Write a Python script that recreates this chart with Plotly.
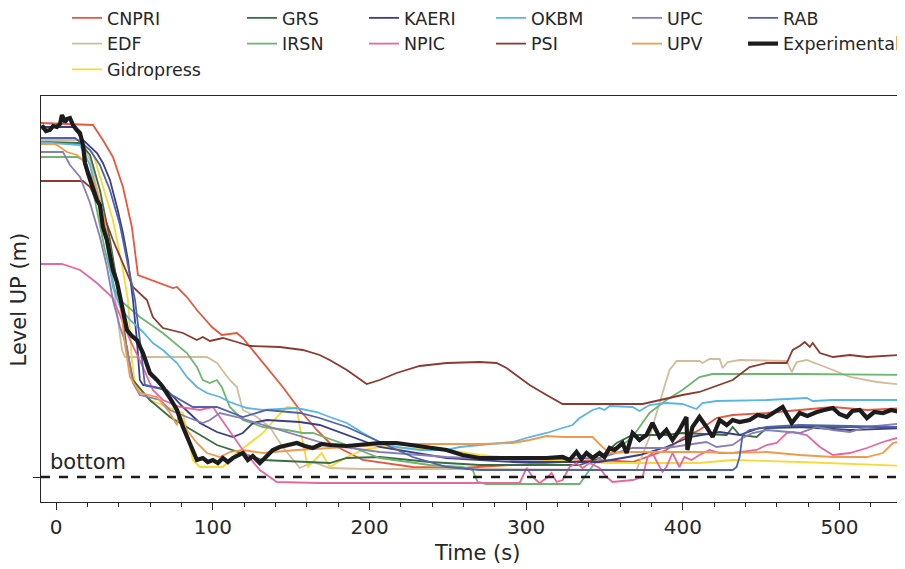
import plotly.graph_objects as go

# level in the upper plenum: (time [s], level [m] above the bottom)
CNPRI = [(-10, 7.08), (23.5, 7.04), (29.8, 6.74), (36.2, 6.40), (42.6, 5.80), (48.3, 5.00), (52.2, 4.04),
         (66.2, 3.88), (74.5, 3.78), (77.1, 3.80), (83.4, 3.60), (89.8, 3.34), (99.4, 3.00), (105.7, 2.84),
         (115.3, 2.88), (119.1, 2.78), (131.9, 2.28), (144.6, 1.80), (155.5, 1.34), (166.3, 0.94),
         (174.6, 0.68), (195.7, 0.34), (227.6, 0.20), (259.4, 0.18), (278.5, 0.22), (346.8, 0.34),
         (367.9, 0.30), (389.5, 0.54), (399.7, 0.78), (410.6, 0.94), (421.5, 1.18), (431.8, 1.24),
         (453.5, 1.28), (474.6, 1.34), (495.8, 1.40), (517.5, 1.34), (541.8, 1.38)]

EDF = [(-10, 6.74), (15.2, 6.74), (21.6, 6.34), (27.9, 5.54), (32.4, 4.74), (36.2, 3.94), (39.4, 3.14),
       (42.0, 2.54), (43.9, 2.40), (96.2, 2.40), (102.6, 2.28), (110.8, 1.94), (115.3, 1.80), (119.1, 1.34),
       (128.1, 1.20), (136.4, 1.00), (144.6, 0.60), (153.6, 0.24), (155.5, 0.18), (163.8, 0.30),
       (174.6, 0.18), (195.7, 0.16), (270.3, 0.16), (370.4, 0.14), (378.7, 0.80), (385.1, 1.48),
       (391.5, 2.14), (396.0, 2.32), (410.6, 2.32), (412.5, 2.28), (417.0, 2.36), (423.5, 2.36),
       (425.4, 2.18), (428.6, 2.30), (436.2, 2.34), (466.3, 2.32), (469.5, 2.10), (472.7, 2.30),
       (479.1, 2.34), (495.8, 2.14), (506.6, 2.00), (523.8, 1.90), (541.8, 1.84)]

GIDROPRESS = [(-10, 6.70), (18.4, 6.64), (23.5, 6.48), (29.8, 5.80), (36.2, 5.14), (42.6, 4.14),
              (45.8, 3.54), (48.3, 2.34), (50.3, 1.84), (53.4, 1.74), (59.8, 1.54), (72.6, 1.38),
              (80.9, 1.28), (87.2, 0.34), (91.7, 0.20), (102.6, 0.20), (106.4, 0.20), (115.3, 0.48),
              (131.9, 0.88), (140.8, 1.20), (147.2, 1.40), (153.6, 1.38), (155.5, 1.00), (160.6, 0.20),
              (169.5, 0.48), (174.6, 0.20), (185.5, 0.40), (195.7, 0.54), (206.5, 0.60), (249.2, 0.54),
              (270.3, 0.44), (291.4, 0.38), (334.1, 0.30), (353.2, 0.28), (410.6, 0.28), (431.8, 0.34),
              (474.6, 0.30), (541.8, 0.22)]

GRS = [(-10, 6.70), (15.2, 6.68), (21.6, 6.44), (27.9, 5.74), (34.3, 4.74), (40.7, 3.54), (45.2, 2.54),
       (49.0, 1.94), (59.8, 1.54), (72.6, 1.20), (102.6, 0.64), (131.9, 0.34), (174.6, 0.28), (185.5, 0.38),
       (206.5, 0.40), (238.4, 0.30), (270.3, 0.24), (334.1, 0.24), (346.8, 0.38), (357.7, 0.68),
       (367.9, 0.84), (389.5, 0.84), (399.7, 0.88), (428.0, 0.84), (431.8, 1.00), (436.2, 0.84),
       (447.1, 0.80), (453.5, 0.98), (474.6, 1.00), (506.6, 1.00), (541.8, 1.00)]

IRSN = [(-10, 6.40), (13.3, 6.40), (17.1, 6.34), (24.7, 5.54), (31.1, 4.54), (37.5, 3.74), (40.7, 3.54),
        (53.4, 3.20), (68.1, 2.88), (83.4, 2.48), (89.8, 2.20), (93.6, 1.94), (98.1, 1.88), (102.6, 1.94),
        (105.7, 1.80), (110.8, 1.40), (119.1, 1.14), (131.9, 1.00), (147.2, 0.94), (157.4, 0.88),
        (163.8, 0.88), (185.5, 0.64), (206.5, 0.38), (238.4, 0.24), (259.4, 0.20), (265.8, 0.14),
        (269.0, -0.10), (274.6, -0.14), (334.1, -0.14), (340.4, 0.14), (346.8, 0.38), (357.7, 0.54),
        (367.9, 0.80), (378.7, 1.28), (389.5, 1.54), (399.7, 1.74), (410.6, 2.00), (419.0, 2.06),
        (474.6, 2.06), (541.8, 2.04)]

KAERI = [(-10, 7.00), (10.7, 7.00), (17.1, 6.74), (26.0, 6.48), (29.8, 6.28), (34.3, 5.94), (38.8, 5.40),
         (42.6, 4.88), (45.8, 4.34), (49.0, 3.54), (51.5, 2.74), (53.4, 1.94), (55.4, 1.84), (70.7, 1.74),
         (80.9, 1.40), (91.7, 1.08), (102.6, 0.90), (112.8, 0.80), (119.1, 0.88), (125.5, 1.08),
         (134.4, 1.14), (155.5, 1.10), (168.2, 1.04), (206.5, 0.60), (249.2, 0.38), (291.4, 0.30),
         (346.8, 0.30), (372.3, 0.44), (389.5, 0.60), (404.2, 0.80), (423.5, 0.90), (436.2, 0.84),
         (449.0, 0.98), (474.6, 1.00), (506.6, 0.94), (541.8, 0.98)]

NPIC = [(-10, 4.26), (3.7, 4.26), (15.2, 4.14), (26.0, 3.88), (36.2, 3.58), (47.1, 2.74), (55.4, 2.20),
        (61.7, 1.74), (68.1, 1.54), (78.9, 1.40), (91.7, 1.34), (100.0, 1.40), (108.9, 1.00), (119.1, 0.54),
        (130.0, 0.14), (140.8, -0.10), (168.2, -0.12), (265.8, -0.12), (295.8, -0.12), (300.3, 0.18),
        (304.1, 0.00), (308.5, -0.12), (313.0, -0.02), (316.2, 0.08), (319.4, -0.10), (323.2, -0.06),
        (327.7, 0.20), (332.1, 0.28), (336.0, 0.18), (340.4, 0.28), (346.8, 0.18), (351.3, 0.00),
        (355.2, -0.10), (367.9, -0.06), (374.3, 0.00), (377.5, 0.40), (380.6, 0.48), (383.8, 0.28),
        (387.0, 0.10), (389.5, 0.20), (393.4, 0.48), (397.8, 0.20), (401.0, 0.40), (405.5, 0.34),
        (410.6, 0.44), (417.0, 0.54), (423.5, 0.48), (431.8, 0.48), (447.1, 0.54), (453.5, 0.64),
        (459.9, 0.68), (466.3, 0.88), (470.1, 0.90), (479.1, 0.84), (487.5, 0.60), (495.8, 0.44),
        (506.6, 0.48), (517.5, 0.58), (527.7, 0.70), (536.6, 0.78), (541.8, 0.78)]

OKBM = [(-10, 6.70), (15.2, 6.64), (21.6, 6.24), (29.8, 5.14), (36.2, 3.80), (40.7, 3.40), (47.1, 3.14),
        (55.4, 2.90), (61.7, 2.68), (68.1, 2.54), (77.1, 2.28), (83.4, 2.00), (89.8, 1.80), (96.2, 1.68),
        (104.5, 1.60), (110.8, 1.50), (121.7, 1.38), (131.9, 1.34), (153.6, 1.38), (166.3, 1.30),
        (174.6, 1.20), (185.5, 1.08), (195.7, 0.88), (206.5, 0.70), (217.3, 0.60), (232.0, 0.54),
        (249.2, 0.54), (257.5, 0.60), (270.3, 0.64), (291.4, 0.70), (302.2, 0.80), (313.0, 0.88),
        (323.2, 0.98), (329.6, 1.04), (334.1, 1.18), (342.4, 1.34), (346.8, 1.38), (350.0, 1.34),
        (353.2, 1.42), (367.9, 1.40), (372.3, 1.32), (378.7, 1.44), (389.5, 1.48), (399.7, 1.46),
        (408.7, 1.36), (412.5, 1.48), (421.5, 1.52), (453.5, 1.54), (479.1, 1.58), (482.9, 1.52),
        (495.8, 1.54), (541.8, 1.54)]

PSI = [(-10, 5.92), (17.1, 5.92), (21.6, 5.80), (29.8, 5.28), (36.2, 4.74), (42.6, 4.28), (49.0, 3.80),
       (57.9, 3.54), (61.7, 3.20), (68.1, 2.98), (80.9, 2.88), (89.8, 2.74), (93.6, 2.80), (98.1, 2.72),
       (106.4, 2.78), (115.3, 2.70), (123.6, 2.62), (142.7, 2.60), (157.4, 2.54), (168.2, 2.44),
       (174.6, 2.34), (185.5, 2.14), (198.2, 1.86), (206.5, 1.94), (217.3, 2.08), (232.0, 2.22),
       (249.2, 2.28), (270.3, 2.30), (281.1, 2.28), (287.5, 2.18), (302.2, 1.84), (313.0, 1.64),
       (323.2, 1.46), (374.3, 1.46), (385.1, 1.54), (399.7, 1.64), (410.6, 1.70), (419.0, 1.80),
       (431.8, 1.94), (442.6, 2.20), (453.5, 2.28), (466.3, 2.28), (470.1, 2.54), (474.6, 2.62),
       (477.8, 2.70), (481.0, 2.60), (482.9, 2.68), (487.5, 2.48), (495.8, 2.40), (506.6, 2.44),
       (517.5, 2.40), (538.6, 2.44), (541.8, 2.40)]

UPC = [(-10, 6.50), (4.3, 6.50), (8.8, 6.24), (15.2, 6.00), (21.6, 5.48), (27.9, 4.80), (32.4, 4.20),
       (36.2, 3.54), (40.7, 3.00), (45.2, 2.60), (49.0, 1.88), (53.4, 1.64), (66.2, 1.54), (72.6, 1.34),
       (83.4, 1.20), (93.6, 1.08), (98.1, 1.14), (104.5, 1.28), (115.3, 1.20), (131.9, 1.04), (153.6, 0.84),
       (174.6, 0.64), (206.5, 0.50), (249.2, 0.40), (291.4, 0.34), (346.8, 0.38), (367.9, 0.58),
       (389.5, 0.58), (410.6, 0.68), (415.1, 0.70), (421.5, 0.60), (431.8, 0.64), (438.1, 0.78),
       (444.5, 0.88), (453.5, 0.94), (474.6, 0.88), (485.5, 1.00), (495.8, 0.94), (506.6, 0.90),
       (517.5, 1.00), (541.8, 1.08)]

UPV = [(-10, 6.66), (-0.8, 6.66), (2.4, 6.60), (6.9, 6.50), (13.3, 6.44), (17.1, 6.34), (23.5, 5.94),
       (29.8, 5.28), (36.2, 4.28), (40.7, 3.54), (43.9, 2.64), (47.1, 2.00), (53.4, 1.68), (64.3, 1.60),
       (72.6, 1.28), (77.1, 1.04), (78.4, 1.28), (83.4, 0.94), (89.8, 0.68), (96.2, 0.48), (104.5, 0.40),
       (110.8, 0.50), (119.1, 0.54), (131.9, 0.48), (153.6, 0.54), (174.6, 0.58), (185.5, 0.60),
       (206.5, 0.64), (227.6, 0.66), (270.3, 0.66), (291.4, 0.68), (302.2, 0.74), (313.0, 0.82),
       (323.2, 0.80), (334.1, 0.80), (342.4, 0.80), (348.7, 0.60), (353.2, 0.48), (367.9, 0.50),
       (410.6, 0.50), (431.8, 0.48), (453.5, 0.50), (474.6, 0.44), (495.8, 0.40), (517.5, 0.40),
       (527.7, 0.48), (534.1, 0.68), (537.3, 0.70), (541.8, 0.60)]

RAB = [(-10, 6.78), (12.0, 6.78), (21.6, 6.54), (27.9, 6.24), (34.3, 5.74), (40.7, 5.04), (45.8, 4.24),
       (50.3, 3.54), (53.4, 2.74), (56.6, 1.84), (66.2, 1.78), (87.2, 1.40), (102.6, 1.40), (112.8, 1.28),
       (119.1, 1.20), (134.4, 1.34), (155.5, 1.28), (168.2, 1.18), (185.5, 1.00), (227.6, 0.40),
       (249.2, 0.20), (270.3, 0.14), (431.8, 0.14), (434.3, 0.20), (436.2, 0.40), (438.1, 0.84),
       (442.6, 0.94), (453.5, 1.00), (474.6, 1.04), (506.6, 1.02), (541.8, 1.00)]

EXPERIMENTAL = [(-9.7, 6.98), (-8.4, 7.00), (-6.5, 6.92), (-4.0, 6.94), (-2.0, 7.02), (0.5, 7.00),
                (2.4, 7.06), (3.7, 7.24), (5.6, 7.10), (6.9, 7.16), (8.8, 7.18), (10.1, 7.06), (10.7, 7.04),
                (13.3, 6.94), (15.2, 6.88), (17.1, 6.64), (18.4, 6.28), (20.3, 6.08), (23.5, 5.80),
                (26.0, 5.54), (27.9, 5.44), (29.8, 5.00), (32.4, 4.74), (34.3, 4.48), (36.2, 4.14),
                (38.8, 3.90), (40.7, 3.60), (43.9, 3.08), (45.2, 2.94), (48.3, 2.82), (51.5, 2.74),
                (55.4, 2.48), (59.8, 2.08), (64.3, 1.94), (68.1, 1.80), (72.6, 1.58), (77.1, 1.34),
                (80.9, 1.00), (85.3, 0.68), (89.8, 0.34), (93.6, 0.38), (96.8, 0.30), (100.0, 0.34),
                (103.2, 0.28), (106.4, 0.38), (109.6, 0.30), (112.8, 0.38), (116.0, 0.44), (119.1, 0.48),
                (122.3, 0.34), (125.5, 0.42), (130.0, 0.28), (131.9, 0.34), (134.4, 0.40), (138.3, 0.54),
                (142.7, 0.60), (147.2, 0.64), (153.6, 0.68), (158.7, 0.62), (163.8, 0.58), (169.5, 0.66),
                (174.6, 0.64), (185.5, 0.62), (195.7, 0.64), (206.5, 0.68), (217.3, 0.68), (227.6, 0.64),
                (238.4, 0.58), (249.2, 0.54), (259.4, 0.44), (270.3, 0.38), (281.1, 0.38), (291.4, 0.38),
                (302.2, 0.36), (313.0, 0.38), (323.2, 0.40), (327.7, 0.34), (332.1, 0.50), (335.3, 0.36),
                (338.5, 0.48), (342.4, 0.38), (346.8, 0.48), (350.0, 0.40), (353.2, 0.58), (356.4, 0.54),
                (361.5, 0.68), (364.1, 0.48), (367.9, 0.88), (372.3, 0.74), (376.8, 0.84), (380.6, 1.08),
                (385.1, 0.80), (389.5, 0.94), (393.4, 0.74), (397.8, 0.94), (402.3, 1.20), (402.9, 0.54),
                (406.1, 1.00), (410.6, 1.20), (415.1, 1.00), (419.0, 0.80), (423.5, 1.14), (428.0, 1.04),
                (431.8, 1.14), (436.2, 1.10), (442.6, 1.14), (447.7, 1.24), (453.5, 1.20), (458.4, 1.30),
                (463.7, 1.40), (469.5, 1.08), (474.6, 1.28), (479.5, 1.22), (485.5, 1.30), (490.3, 1.34),
                (495.8, 1.38), (499.9, 1.26), (504.7, 1.20), (508.2, 1.32), (513.0, 1.34), (517.5, 1.18),
                (522.2, 1.30), (527.7, 1.28), (533.0, 1.34), (538.6, 1.30), (541.8, 1.28)]

BOTTOM_LEVEL = 0.0
X_TICKS = [0, 100, 200, 300, 400, 500]

FONT = "DejaVu Sans"
INK = "#262626"

# name, data, colour, legend column
models = [
    ("CNPRI", CNPRI, "#e8573f", "legend"),
    ("EDF", EDF, "#d3bc9a", "legend"),
    ("Gidropress", GIDROPRESS, "#f6da3a", "legend"),
    ("GRS", GRS, "#3b6d45", "legend2"),
    ("IRSN", IRSN, "#6db66f", "legend2"),
    ("KAERI", KAERI, "#3b3e87", "legend3"),
    ("NPIC", NPIC, "#e9679f", "legend3"),
    ("OKBM", OKBM, "#58b6e4", "legend4"),
    ("PSI", PSI, "#8b3a2f", "legend4"),
    ("UPC", UPC, "#8a7eb7", "legend5"),
    ("UPV", UPV, "#f29a4b", "legend5"),
    ("RAB", RAB, "#4f62ab", "legend6"),
]

fig = go.Figure()

for name, data, color, leg in models:
    fig.add_trace(go.Scatter(
        x=[p[0] for p in data], y=[p[1] for p in data],
        mode="lines", name=name, legend=leg,
        line=dict(color=color, width=1.8),
    ))

fig.add_trace(go.Scatter(
    x=[p[0] for p in EXPERIMENTAL], y=[p[1] for p in EXPERIMENTAL],
    mode="lines", name="Experimental", legend="legend6",
    line=dict(color="#1c1c1c", width=4.2),
))

fig.add_hline(y=BOTTOM_LEVEL, line=dict(color="#1c1c1c", width=2.5, dash="dash"))
fig.add_annotation(x=-5.2, y=BOTTOM_LEVEL, text="bottom", showarrow=False,
                   xanchor="left", yanchor="bottom", yshift=1,
                   font=dict(family=FONT, size=21, color=INK))

# axis titles placed by hand
fig.add_annotation(xref="paper", yref="paper", x=0.505, y=-0.125, text="Time (s)", showarrow=False,
                   xanchor="center", yanchor="middle", font=dict(family=FONT, size=21, color=INK))
fig.add_annotation(xref="paper", yref="paper", x=-0.025, y=0.5, text="Level UP (m)", showarrow=False,
                   textangle=-90, xanchor="center", yanchor="middle",
                   font=dict(family=FONT, size=21, color=INK))

# one legend per column, like the matplotlib ncol layout
# (the page body adds an 8 px offset, so the whole figure is laid out 8 px up/left)
legend_x = [0.0652, 0.2586, 0.3934, 0.5337, 0.6840, 0.8122]
legends = {}
for i, lx in enumerate(legend_x):
    key = "legend" if i == 0 else f"legend{i + 1}"
    legends[key] = dict(x=lx, y=1.2365, xref="container", yref="paper", xanchor="left", yanchor="top",
                        orientation="v", bgcolor="rgba(0,0,0,0)", borderwidth=0,
                        font=dict(family=FONT, size=17.5, color=INK))

fig.update_layout(
    width=905, height=569, autosize=False,
    margin=dict(l=33, r=8, t=88, b=75, autoexpand=False),
    paper_bgcolor="white", plot_bgcolor="white",
    font=dict(family=FONT, color=INK),
    showlegend=True,
    **legends,
)

fig.update_xaxes(
    range=[-9.7, 541.8], tickvals=X_TICKS, ticks="outside", ticklen=7, tickwidth=1.3,
    tickcolor=INK, showgrid=False, zeroline=False, automargin=False,
    showline=True, linecolor=INK, linewidth=1.3, mirror=True,
    minor=dict(dtick=20, tick0=0, ticks="outside", ticklen=4, tickwidth=1.1, tickcolor=INK, showgrid=False),
    tickfont=dict(family=FONT, size=20, color=INK),
)
fig.update_yaxes(
    range=[-0.5, 7.62], tickvals=[BOTTOM_LEVEL], ticktext=[""], ticks="outside", ticklen=7,
    tickwidth=1.3, tickcolor=INK, showgrid=False, zeroline=False, automargin=False,
    showline=True, linecolor=INK, linewidth=1.3,
)

fig.write_html("out.html")
